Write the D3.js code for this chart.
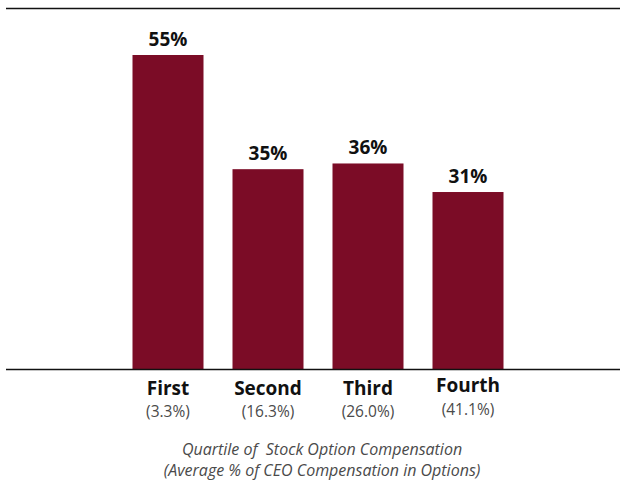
<!DOCTYPE html>
<html>
<head>
<meta charset="utf-8">
<script src="https://cdn.jsdelivr.net/npm/d3@7"></script>
<style>
  body { margin: 0; background: #fff; }
  text { font-family: "Open Sans", "Noto Sans", sans-serif; }
  .val { font-size: 19px; font-weight: 700; fill: #111; }
  .cat { font-size: 19px; font-weight: 700; fill: #111; }
  .sub { font-size: 15.5px; fill: #4a4a4a; }
  .cap { font-size: 16px; font-style: italic; fill: #4a4a4a; white-space: pre; }
</style>
</head>
<body>
<div id="chart"></div>
<script>
const quartiles = ["First", "Second", "Third", "Fourth"],
    optionShare = ["(3.3%)", "(16.3%)", "(26.0%)", "(41.1%)"],
    values = [55, 35, 36, 31],
    caption = ["Quartile of  Stock Option Compensation", "(Average % of CEO Compensation in Options)"]

const w = 620,
    h = 483,
    baseline = 369

const x = d3.scaleBand()
    .domain(quartiles)
    .range([118, 518])
    .paddingInner(0.29)
    .paddingOuter(0.145)

const y = d3.scaleLinear()
    .domain([0, 55])
    .range([baseline, 55])

const svg = d3.select("#chart").append("svg")
    .attr("width", w)
    .attr("height", h)

// top rule
svg.append("line")
    .attr("x1", 6).attr("x2", 620)
    .attr("y1", 8.5).attr("y2", 8.5)
    .attr("stroke", "#111").attr("stroke-width", 1.3)

svg.selectAll(".bar")
    .data(values)
    .join("rect")
    .attr("class", "bar")
    .attr("x", (d, i) => x(quartiles[i]))
    .attr("width", x.bandwidth())
    .attr("y", d => y(d))
    .attr("height", d => baseline - y(d))
    .attr("fill", "#7b0c26")

// baseline
svg.append("line")
    .attr("x1", 6).attr("x2", 620)
    .attr("y1", baseline + 0.5).attr("y2", baseline + 0.5)
    .attr("stroke", "#111").attr("stroke-width", 1.3)

svg.selectAll(".val")
    .data(values)
    .join("text")
    .attr("class", "val")
    .attr("x", (d, i) => x(quartiles[i]) + x.bandwidth() / 2)
    .attr("y", d => y(d) - 9)
    .attr("text-anchor", "middle")
    .text(d => d + "%")

svg.selectAll(".cat")
    .data(quartiles)
    .join("text")
    .attr("class", "cat")
    .attr("x", d => x(d) + x.bandwidth() / 2)
    .attr("y", (d, i) => i == 3 ? 392 : 395)
    .attr("text-anchor", "middle")
    .text(d => d)

svg.selectAll(".sub")
    .data(optionShare)
    .join("text")
    .attr("class", "sub")
    .attr("x", (d, i) => x(quartiles[i]) + x.bandwidth() / 2)
    .attr("y", (d, i) => i == 3 ? 415 : 417)
    .attr("text-anchor", "middle")
    .text(d => d)

svg.selectAll(".cap")
    .data(caption)
    .join("text")
    .attr("class", "cap")
    .attr("x", 322)
    .attr("y", (d, i) => 455 + i * 21)
    .attr("text-anchor", "middle")
    .text(d => d)
</script>
</body>
</html>
